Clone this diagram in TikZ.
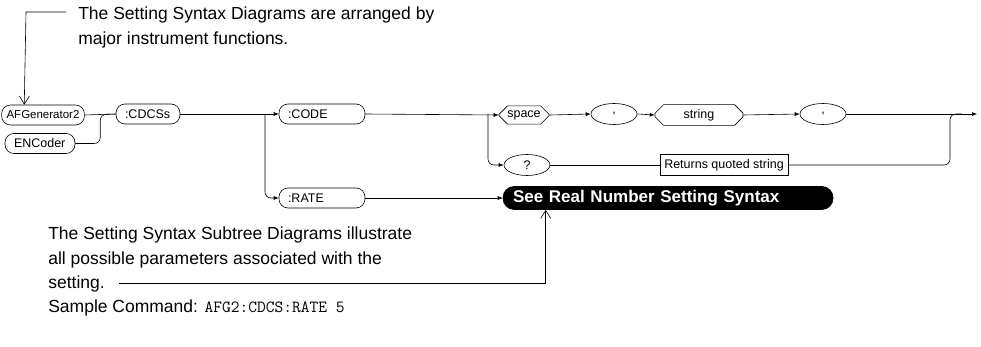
\documentclass[tikz,border=0pt]{standalone}
\usepackage{fontspec}
\setmainfont{Liberation Sans}
\usetikzlibrary{shapes.geometric,shapes.misc,arrows.meta,calc}
\begin{document}
\begin{tikzpicture}[x=1pt,y=-1pt,
  line width=0.6pt,
  nfont/.style={font=\fontsize{12.5}{13}\selectfont},
  pill/.style={draw, rounded corners=9pt, minimum height=20pt, inner xsep=5pt, nfont},
  lpill/.style={draw, rounded corners=9pt, minimum height=20pt, inner xsep=9pt, text width=#1, align=left, nfont},
  oval/.style={draw, ellipse, minimum width=46pt, minimum height=21pt, inner sep=0pt, nfont},
  chamf/.style={draw, chamfered rectangle, chamfered rectangle xsep=5pt, minimum height=17pt, inner ysep=1pt, nfont},
  note/.style={anchor=base west, inner sep=0pt, font=\fontsize{17.5}{20}\selectfont},
  arr/.style={-{Latex[length=5pt,width=4pt]}},
  barb/.style={-{Straight Barb[length=8pt,width=10pt]}}
]
\useasboundingbox (0,0) rectangle (981,347);

% nodes
\node[pill, minimum width=80pt, font=\fontsize{11.5}{12}\selectfont] (afg) at (43,115) {AFGenerator2};
\node[lpill=52pt] (enc) at (40,143.5) {ENCoder};
\node[lpill=46pt] (cdcs) at (148,114) {:CDCSs};
\node[lpill=68pt] (code) at (322,114) {:CODE};
\node[lpill=68pt] (rate) at (322,198) {:RATE};
\node[chamf, minimum width=50pt] (space) at (524,115) {space};
\node[oval] (c1) at (614,114) {,};
\node[chamf, minimum width=88pt] (str) at (699,115) {string};
\node[oval] (c2) at (823,114) {,};
\node[oval] (q) at (527,165) {?};
\node[draw, rectangle, minimum width=128pt, minimum height=21pt, nfont] (ret) at (724,165) {Returns quoted string};
\node[fill=black, draw=black, rounded corners=11pt, minimum height=23pt, text width=310pt, inner xsep=10pt, align=left, text=white, font=\fontsize{17}{18}\selectfont\bfseries] (see) at (668,198) {See Real Number Setting Syntax};

% junction coordinates
\coordinate (jE) at ($(afg.east)!0.5!(cdcs.west)$);
\coordinate (b1) at (265,114);
\coordinate (b2) at (488,114);
\coordinate (endc) at (977,114);
\coordinate (r1) at (950,114);
\coordinate (r2) at (962,114);

% connectors
\draw (afg.east) -- (cdcs.west);
\draw[rounded corners=6pt] (enc.east) -| (jE) -- (cdcs.west);
\draw[arr] (cdcs.east) -- (code.west);
\draw[arr, rounded corners=6pt] (b1) |- (rate.west);
\draw[arr] (code.east) -- (space.west);
\draw[arr, rounded corners=6pt] (b2) |- (q.west);
\draw[arr] (space.east) -- (c1.west);
\draw[arr] (c1.east) -- (str.west);
\draw[arr] (str.east) -- (c2.west);
\draw[arr] (c2.east) -- (endc);
\draw (q.east) -- (ret.west);
\draw[rounded corners=6pt] (ret.east) -| (r1) -- (r2);
\draw[arr] (rate.east) -- (see.west);

% top annotation
\node[note] (t1) at (78,20) {The Setting Syntax Diagrams are arranged by};
\node[note] (t2) at (78,45) {major instrument functions.};
\coordinate (tp1) at (66,12);
\coordinate (tp2) at (26,12);
\coordinate (tpA) at ($(afg.north west)+(23,0)$);
\draw[barb] (tp1) -- (tp2) -- (tpA);

% bottom annotation
\node[note] (b1t) at (48,240) {The Setting Syntax Subtree Diagrams illustrate};
\node[note] (b2t) at (48,264) {all possible parameters associated with the};
\node[note] (b3t) at (48,288) {setting.};
\node[note] (b4t) at (48,312) {Sample Command: {\ttfamily\fontsize{17}{18}\selectfont AFG2:CDCS:RATE 5}};
\coordinate (bp1) at ($(b3t.base east)+(14,-5)$);
\coordinate (bpS) at ($(see.south west)+(43,0)$);
\draw[barb] (bp1) -| (bpS);
\end{tikzpicture}
\end{document}
